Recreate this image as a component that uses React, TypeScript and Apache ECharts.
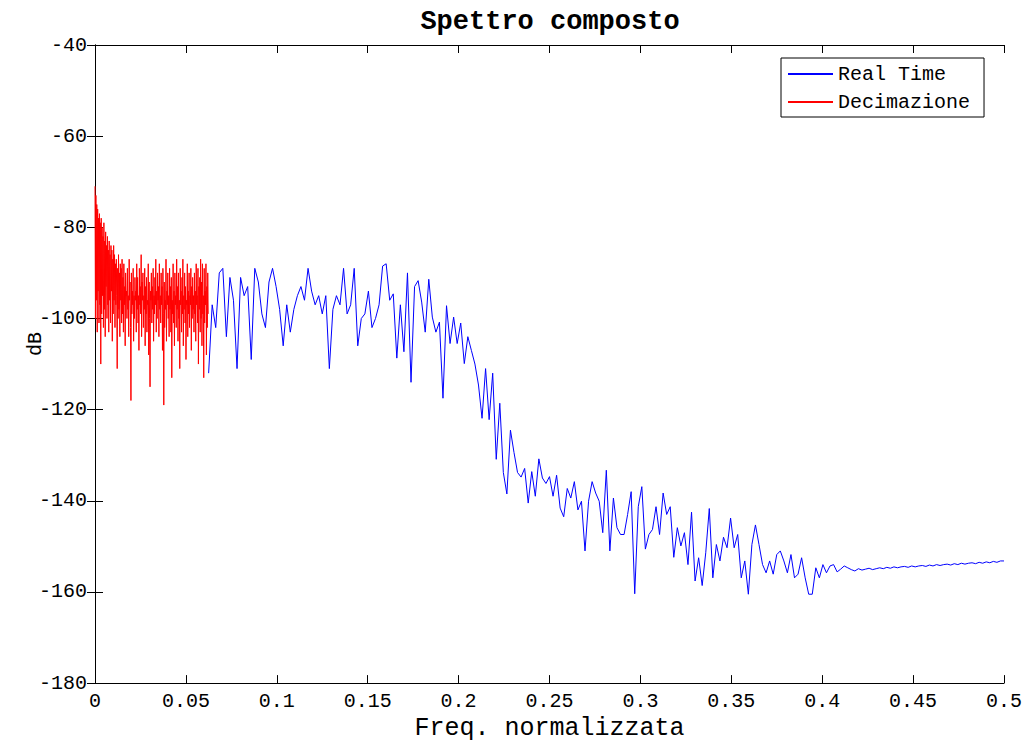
import React, { useEffect, useRef } from "react";
import * as echarts from "echarts";

// Tick labels
const xTicks = [0, 0.05, 0.1, 0.15, 0.2, 0.25, 0.3, 0.35, 0.4, 0.45, 0.5];
const yTicks = [-180, -160, -140, -120, -100, -80, -60, -40];

// Series names
const seriesNames = ["Real Time", "Decimazione"];

// Decimazione: 0 .. 0.0625 (256 bins)
const redStart = 0;
const redStep = 0.0625 / 256;
const redValues = [
  -71, -100, -73, -96, -75, -103, -76, -94, -78, -101, -77, -97, -79, -110, -78, -99,
  -80, -95, -82, -102, -79, -98, -83, -104, -81, -93, -84, -100, -82, -97, -85, -103,
  -83, -96, -86, -101, -84, -94, -85, -105, -87, -99, -84, -96, -86, -102, -88, -97,
  -87, -95, -111, -89, -100, -86, -98, -90, -104, -88, -96, -89, -101, -87, -99, -91,
  -103, -88, -97, -93, -106, -90, -95, -94, -100, -89, -98, -95, -104, -87, -96, -92,
  -102, -118, -90, -99, -94, -97, -89, -105, -95, -100, -91, -96, -94, -103, -88, -98,
  -91, -101, -95, -107, -89, -97, -93, -99, -86, -104, -92, -96, -90, -102, -95, -98,
  -89, -106, -93, -99, -91, -103, -96, -97, -88, -108, -92, -100, -115, -94, -96, -90,
  -101, -93, -98, -89, -105, -95, -99, -91, -97, -87, -103, -94, -100, -90, -96, -93,
  -104, -88, -98, -95, -101, -90, -97, -93, -107, -89, -99, -119, -92, -102, -96, -98,
  -87, -105, -94, -97, -90, -100, -95, -104, -89, -98, -93, -103, -91, -113, -96, -99,
  -88, -101, -94, -106, -90, -97, -95, -102, -87, -98, -93, -105, -90, -100, -96, -111,
  -89, -97, -94, -103, -91, -99, -87, -106, -95, -98, -90, -101, -93, -109, -96, -97,
  -88, -104, -94, -99, -90, -102, -95, -97, -89, -107, -93, -100, -91, -98, -95, -103,
  -90, -99, -94, -105, -88, -97, -95, -101, -89, -110, -93, -98, -91, -103, -87, -100,
  -92, -106, -88, -99, -95, -113, -89, -101, -94, -97, -88, -108, -93, -102, -90, -99,
];

// Real Time: 0.0625 .. 0.5 (225 bins)
const blueStart = 0.0625;
const blueStep = 1 / 512;
const blueValues = [
  -112, -97, -102, -90, -89, -104, -91, -96, -111, -91,
  -95, -93, -109, -89, -92, -99, -102, -92, -89, -93,
  -98, -106, -97, -103, -98, -95, -93, -96, -89, -94,
  -97, -95, -99, -95, -111, -98, -95, -97, -89, -99,
  -97, -89, -106, -100, -99, -94, -102, -100, -97, -88.5,
  -88, -96, -94.6, -108.7, -97, -107.3, -90, -114, -93, -91.7,
  -96.4, -103, -91.4, -99.7, -103, -100.8, -117.5, -97.2, -105.5, -99.7,
  -105.5, -101, -109.9, -104, -107, -110, -114.6, -121.9, -111, -122.2,
  -112, -130.9, -118.6, -133.8, -138.5, -124.5, -129.4, -133.8, -134.8, -132.9,
  -140.5, -133.6, -139, -130.8, -135, -136.2, -134.7, -139, -134.4, -141.6,
  -143.5, -137.3, -139.4, -135.8, -142, -140.1, -151, -140.1, -135.8, -138.3,
  -140.1, -147, -133.3, -151, -139.4, -145.9, -147.4, -147.4, -143, -138,
  -160.4, -141.3, -136.9, -150.6, -147.4, -146.3, -141.3, -147.4, -138.3, -143,
  -141.3, -152.4, -145.9, -149.9, -147, -154, -142.5, -157.6, -152.5, -158.6,
  -151.4, -141.7, -156.9, -149.6, -153.2, -148, -150.3, -143.8, -150.3, -147.4,
  -156.9, -153.2, -160.5, -149.6, -145.3, -149.6, -154, -155.8, -153.2, -156.1,
  -151.8, -151, -153.2, -155.8, -151.8, -156.9, -156.1, -152.5, -156.9, -160.5,
  -160.5, -154.7, -156.9, -154, -155.8, -154.3, -154, -155.6, -155, -154.3,
  -154.7,
  -155.1, -155.4, -154.9, -155.2, -155.0, -154.8, -155.1, -154.9, -154.7, -154.9,
  -154.6, -154.8, -154.5, -154.7, -154.5, -154.4, -154.6, -154.3, -154.5, -154.3,
  -154.2, -154.4, -154.1, -154.3, -154.0, -154.2, -154.0, -153.9, -154.1, -153.8,
  -154.0, -153.7, -153.9, -153.7, -153.6, -153.8, -153.5, -153.7, -153.4, -153.6,
  -153.3, -153.5, -153.2, -153.2,
];

const FONT = "'Liberation Mono', 'Courier New', monospace";

export default function App() {
  const ref = useRef<HTMLDivElement>(null);

  useEffect(() => {
    if (!ref.current) return;
    const chart = echarts.init(ref.current, undefined, { renderer: "svg" });

    const xMin = xTicks[0];
    const xMax = xTicks[xTicks.length - 1];
    const xInt = xTicks[1] - xTicks[0];
    const yMin = yTicks[0];
    const yMax = yTicks[yTicks.length - 1];
    const yInt = yTicks[1] - yTicks[0];

    const fmtX = (v: number) => String(+v.toFixed(2));

    const axisCommon = {
      axisLine: { show: true, lineStyle: { color: "#000", width: 1 } },
      axisTick: { show: true, inside: true, length: 8, lineStyle: { color: "#000", width: 1 } },
      splitLine: { show: false },
    };

    const blueData = blueValues.map((v, i) => [blueStart + i * blueStep, v]);
    const redData = redValues.map((v, i) => [redStart + i * redStep, v]);

    chart.setOption({
      animation: false,
      backgroundColor: "#fff",
      title: {
        text: "Spettro composto",
        left: 545,
        top: 3,
        textAlign: "center",
        textStyle: { fontFamily: FONT, fontSize: 27, fontWeight: "bold", color: "#000" },
      },
      legend: {
        data: seriesNames,
        orient: "vertical",
        left: 781,
        top: 58,
        padding: [6, 14, 5, 7],
        itemWidth: 45,
        itemHeight: 2,
        itemGap: 8,
        icon: "rect",
        backgroundColor: "#fff",
        borderColor: "#000",
        borderWidth: 1,
        borderRadius: 0,
        textStyle: { fontFamily: FONT, fontSize: 20, color: "#000", lineHeight: 20 },
      },
      grid: { left: 95, top: 45, width: 909, height: 645, containLabel: false },
      xAxis: [
        {
          type: "value",
          min: xMin,
          max: xMax,
          interval: xInt,
          position: "bottom",
          name: "Freq. normalizzata",
          nameLocation: "middle",
          nameGap: 31,
          nameTextStyle: { fontFamily: FONT, fontSize: 25, color: "#000" },
          axisLabel: {
            fontFamily: FONT,
            fontSize: 20,
            color: "#000",
            margin: 8,
            formatter: fmtX,
          },
          ...axisCommon,
        },
        {
          type: "value",
          min: xMin,
          max: xMax,
          interval: xInt,
          position: "top",
          axisLabel: { show: false },
          ...axisCommon,
        },
      ],
      yAxis: [
        {
          type: "value",
          min: yMin,
          max: yMax,
          interval: yInt,
          position: "left",
          name: "dB",
          nameLocation: "middle",
          nameGap: 50,
          nameMoveOverlap: false,
          nameTextStyle: {
            fontFamily: FONT,
            fontSize: 20,
            color: "#000",
            padding: [0, 0, 0, 40],
          },
          axisLabel: { fontFamily: FONT, fontSize: 20, color: "#000", margin: 8 },
          ...axisCommon,
        },
        {
          type: "value",
          min: yMin,
          max: yMax,
          interval: yInt,
          position: "right",
          axisLabel: { show: false },
          ...axisCommon,
        },
      ],
      series: [
        {
          name: seriesNames[0],
          type: "line",
          data: blueData,
          symbol: "none",
          showSymbol: false,
          color: "#0000ff",
          lineStyle: { color: "#0000ff", width: 1 },
          xAxisIndex: 0,
          yAxisIndex: 0,
        },
        {
          name: seriesNames[1],
          type: "line",
          data: redData,
          symbol: "none",
          showSymbol: false,
          color: "#ff0000",
          lineStyle: { color: "#ff0000", width: 1 },
          xAxisIndex: 0,
          yAxisIndex: 0,
        },
      ],
    });

    return () => chart.dispose();
  }, []);

  return (
    <div
      ref={ref}
      style={{ position: "absolute", left: 0, top: 0, width: 1031, height: 746 }}
    />
  );
}
